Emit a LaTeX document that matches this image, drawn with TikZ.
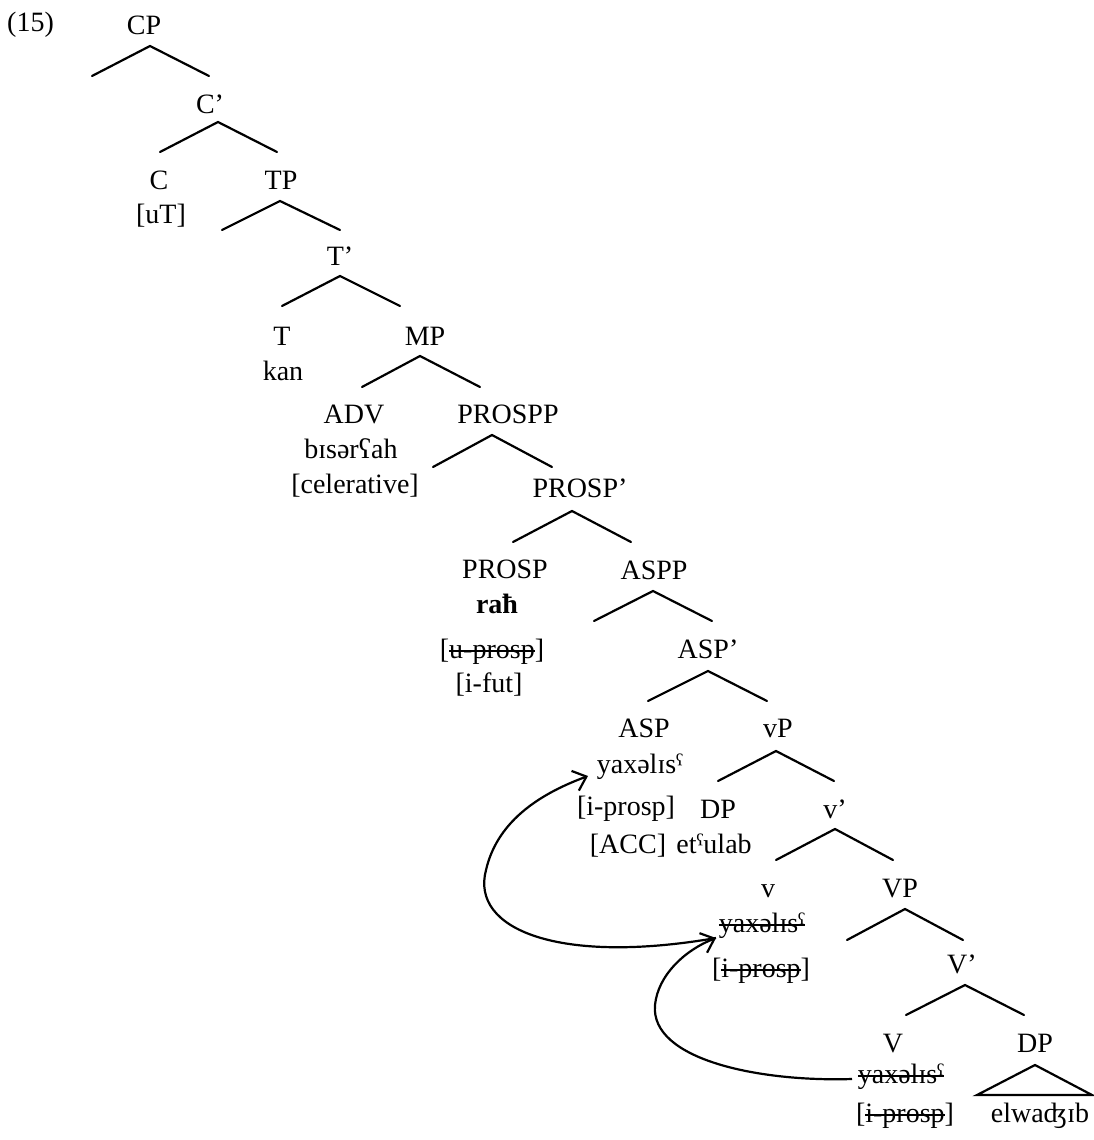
\documentclass[tikz,border=0pt]{standalone}
\usepackage{fontspec}
\setmainfont{Liberation Serif}
\usetikzlibrary{arrows.meta}
\newsavebox\strkbox
\newcommand\strk[1]{\sbox\strkbox{#1}\rlap{\vrule height 0.27em depth -0.2em width \wd\strkbox}\usebox\strkbox}
\newcommand\branchat[4]{%
  \coordinate (#1a) at #2;
  \coordinate (#1l) at #3;
  \coordinate (#1r) at #4;
  \draw[br] (#1l) -- (#1a) -- (#1r);}
\begin{document}
\begin{tikzpicture}[x=1pt,y=-1pt,
  lbl/.style={font=\fontsize{28}{33}\selectfont, inner sep=0pt, anchor=base},
  br/.style={line width=2.2pt, line cap=round},
  mv/.style={line width=2.2pt, -{Straight Barb[length=12pt,width=21pt,line width=2.2pt]}}]
\useasboundingbox (0,0) rectangle (1093,1140);

% labels
\node[lbl,anchor=base west] (ex) at (7,32) {(15)};
\node[lbl] (CP) at (144,35) {CP};
\node[lbl] (Cbar) at (210,113) {C’};
\node[lbl] (C) at (159,189) {C};
\node[lbl] (uT) at (161,223) {[uT]};
\node[lbl] (TP) at (281,189) {TP};
\node[lbl] (Tbar) at (340,265) {T’};
\node[lbl] (T) at (282,345) {T};
\node[lbl] (kan) at (283,380) {kan};
\node[lbl] (MP) at (425,345) {MP};
\node[lbl] (ADV) at (354,423) {ADV};
\node[lbl] (bis) at (351,458) {bɪsərʕah};
\node[lbl] (cel) at (355,493) {[celerative]};
\node[lbl] (PROSPP) at (508,423) {PROSPP};
\node[lbl] (PROSPbar) at (580,497) {PROSP’};
\node[lbl] (PROSP) at (505,578) {PROSP};
\node[lbl] (rah) at (497,613) {\textbf{raħ}};
\node[lbl] (uprosp) at (492,658) {[\strk{u-prosp}]};
\node[lbl] (ifut) at (489,692) {[i-fut]};
\node[lbl] (ASPP) at (654,579) {ASPP};
\node[lbl] (ASPbar) at (708,658) {ASP’};
\node[lbl] (ASP) at (644,737) {ASP};
\node[lbl] (yaxA) at (640,773) {yaxəlɪsˤ};
\node[lbl] (iprospA) at (626,815) {[i-prosp]};
\node[lbl] (ACC) at (628,853) {[ACC]};
\node[lbl] (vP) at (778,737) {vP};
\node[lbl] (DPa) at (718,818) {DP};
\node[lbl] (tulab) at (714,853) {etˤulab};
\node[lbl] (vbar) at (835,818) {v’};
\node[lbl] (v) at (768,897) {v};
\node[lbl] (yaxB) at (762,932) {\strk{yaxəlɪsˤ}};
\node[lbl] (iprospB) at (761,977) {[\strk{i-prosp}]};
\node[lbl] (VP) at (900,897) {VP};
\node[lbl] (Vbar) at (962,973) {V’};
\node[lbl] (V) at (893,1052) {V};
\node[lbl] (DPb) at (1035,1052) {DP};
\node[lbl] (yaxC) at (901,1083) {\strk{yaxəlɪsˤ}};
\node[lbl] (iprospC) at (905,1122) {[\strk{i-prosp}]};
\node[lbl] (wajib) at (1040,1122) {elwaʤɪb};

% branches
\branchat{cp}{(150,46)}{(92,76)}{(209,76)}
\branchat{cb}{(218,122)}{(160,152)}{(277,152)}
\branchat{tp}{(280,201)}{(222,230)}{(340,230)}
\branchat{tb}{(340,276)}{(282,306)}{(400,306)}
\branchat{mp}{(420,356)}{(362,387)}{(480,387)}
\branchat{pp}{(492,435)}{(433,467)}{(552,467)}
\branchat{pb}{(572,511)}{(513,542)}{(631,542)}
\branchat{ap}{(653,591)}{(594,621)}{(712,621)}
\branchat{ab}{(708,671)}{(648,701)}{(767,701)}
\branchat{vp}{(776,751)}{(718,781)}{(834,781)}
\branchat{vb}{(835,829)}{(776,860)}{(893,860)}
\branchat{VP}{(905,909)}{(847,940)}{(963,940)}
\branchat{Vb}{(965,985)}{(906,1015)}{(1024,1015)}

% triangle
\coordinate (triA) at (1035,1065);
\coordinate (triL) at (977,1095);
\coordinate (triR) at (1092,1095);
\draw[br, line join=miter] (triA) -- (triL) -- (triR) -- cycle;

% movement arrows
\coordinate (tipA) at (588,776);
\coordinate (tipB) at (716,938);
\coordinate (tailC) at (852,1079);
\draw[mv] (tipB) .. controls (560,965) and (470,930) .. (486,870) .. controls (498,818) and (545,792) .. (tipA);
\draw[mv] (tailC) .. controls (760,1082) and (650,1060) .. (655,1005) .. controls (658,975) and (685,950) .. (tipB);
\end{tikzpicture}
\end{document}
